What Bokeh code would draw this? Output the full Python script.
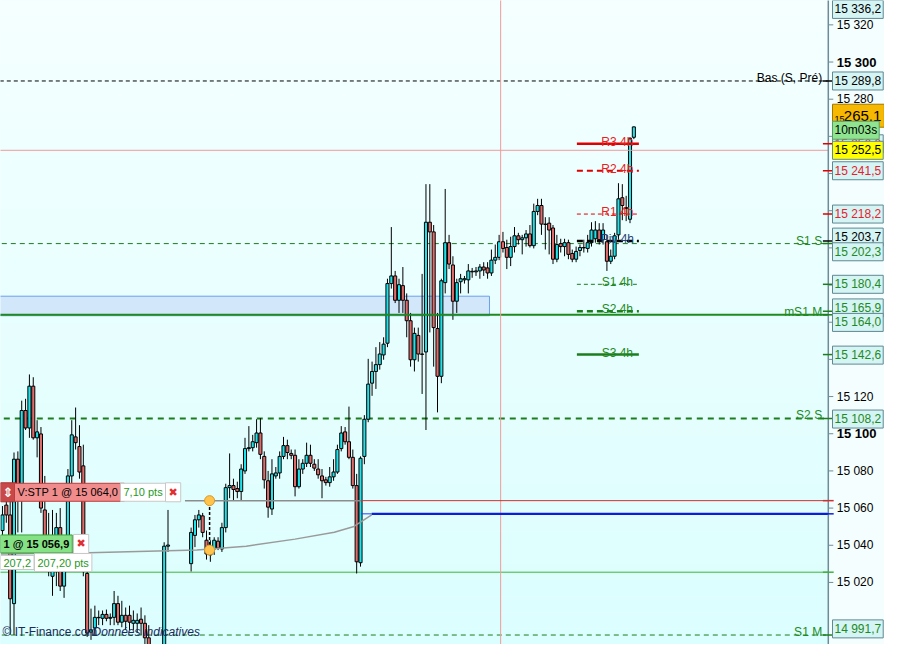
from bokeh.plotting import figure
from bokeh.models import Range1d, Label
from bokeh.embed import file_html
from bokeh.resources import INLINE
from bokeh.core.properties import value

FONT = "Liberation Sans"

# ---------------- data ----------------
opens = [15047.9, 15061.6, 15056.3, 15008.6, 15086.3, 15070.5, 15112.5, 15103.1, 15125.6, 15097.8, 15099.9, 15059.0,
         15040.6, 15023.3, 15039.0, 15049.5, 15018.0, 15039.0, 15077.3, 15098.3, 15093.1, 15082.7, 15024.8,
         14993.3, 14995.4, 15001.2, 15000.7, 15002.8, 15000.7, 15001.2, 15008.6, 14998.6, 15002.3, 15002.3, 14998.0,
         14998.0, 15000.2, 14998.0, 14990.2, 14981.3, 14976.0, 14978.6, 14980.2, 15039.5,
         15030.1, 15045.3, 15053.7, 15055.8, 15042.7, 15034.8, 15038.0, 15042.2, 15038.0, 15049.5, 15071.0, 15072.1,
         15070.5, 15068.9, 15080.0, 15092.0, 15092.5, 15095.2, 15100.4, 15087.8, 15074.7, 15059.5, 15077.3, 15078.9,
         15087.8, 15093.6, 15089.4, 15088.4, 15071.5, 15081.0, 15084.1, 15088.4, 15083.6, 15081.0, 15077.3, 15075.2,
         15073.7, 15076.8, 15079.4, 15092.0, 15101.0, 15095.7, 15087.3, 15072.1, 15030.6, 15087.8, 15107.8, 15127.2,
         15133.5, 15137.2, 15142.4, 15148.7, 15180.8, 15184.9, 15171.8, 15179.7, 15171.8, 15160.8, 15139.8, 15152.9,
         15142.9, 15144.0, 15213.8, 15208.6, 15156.6, 15130.9, 15181.3, 15202.8, 15190.8, 15171.3, 15181.8, 15182.8,
         15182.8, 15187.1, 15187.1, 15187.6, 15189.7, 15189.2, 15186.5, 15193.4, 15194.9, 15203.3, 15200.2, 15194.9,
         15200.7, 15206.5, 15204.4, 15205.4, 15207.5, 15201.2, 15219.6, 15222.8, 15212.8, 15213.3, 15210.7, 15193.9,
         15202.3, 15200.7, 15202.8, 15197.0, 15193.9, 15198.6, 15200.2, 15199.7, 15202.8, 15204.9, 15209.6, 15204.4,
         15203.3, 15192.8, 15195.5, 15207.0, 15227.0, 15221.7, 15215.4, 15259.5]
highs = [15061.1, 15067.9, 15067.9, 15089.9, 15090.5, 15117.8, 15118.8, 15131.9, 15130.4, 15107.3, 15103.6, 15077.3,
         15057.4, 15059.0, 15057.4, 15060.0, 15041.6, 15081.0, 15107.3, 15114.1, 15104.6, 15094.1, 15028.5,
         15005.9, 15007.5, 15004.9, 15004.9, 15005.4, 15003.3, 15015.4, 15012.8, 15010.1, 15006.5, 15007.5, 15004.9,
         15003.3, 15006.5, 15002.3, 14997.0, 14986.5, 14983.9, 14986.5, 15041.6, 15059.0,
         15049.5, 15056.3, 15059.0, 15057.4, 15047.9, 15042.7, 15044.3, 15044.3, 15052.1, 15073.1, 15089.4, 15075.8,
         15074.2, 15083.6, 15097.8, 15104.1, 15099.4, 15107.8, 15108.4, 15090.5, 15080.0, 15086.3, 15082.1, 15090.5,
         15098.3, 15096.8, 15091.5, 15091.5, 15086.3, 15086.3, 15095.2, 15094.1, 15086.3, 15086.3, 15081.0, 15076.8,
         15082.1, 15086.3, 15094.1, 15104.1, 15103.6, 15114.6, 15091.5, 15078.4, 15087.8, 15110.0, 15140.3, 15138.8,
         15146.6, 15149.3, 15151.9, 15183.4, 15211.2, 15187.6, 15183.4, 15189.7, 15175.5, 15165.0, 15157.1, 15157.1,
         15186.0, 15234.3, 15234.3, 15212.3, 15165.0, 15183.4, 15231.7, 15207.0, 15195.5, 15183.4, 15186.0, 15184.9,
         15191.3, 15189.2, 15189.7, 15191.3, 15192.3, 15192.3, 15199.1, 15201.8, 15207.0, 15208.6, 15204.4, 15206.0,
         15211.2, 15208.1, 15207.0, 15209.6, 15212.3, 15223.8, 15226.4, 15226.4, 15216.5, 15216.5, 15212.3, 15207.0,
         15204.9, 15204.9, 15204.4, 15199.1, 15200.7, 15201.8, 15204.4, 15207.0, 15213.8, 15214.4, 15213.3, 15213.3,
         15207.0, 15199.1, 15208.1, 15234.8, 15234.3, 15228.0, 15259.5, 15265.3]
lows = [15039.0, 15052.1, 14991.8, 14991.8, 15046.9, 15046.9, 15102.0, 15097.8, 15096.8, 15087.3, 15057.4, 15039.0,
        15023.3, 15012.8, 15018.0, 15015.4, 15011.7, 15033.8, 15073.1, 15091.5, 15075.8, 15023.3, 14990.7,
        14989.1, 14991.8, 14997.0, 14997.0, 14999.1, 14997.0, 14997.0, 14997.0, 14995.9, 14994.4, 14994.4, 14994.4,
        14992.8, 14991.8, 14983.9, 14976.0, 14970.8, 14968.1, 14970.8, 14976.0, 15036.4,
        15025.9, 15039.0, 15049.5, 15044.3, 15032.3, 15031.1, 15034.8, 15037.4, 15036.4, 15046.9, 15065.3, 15064.2,
        15065.3, 15064.2, 15078.4, 15090.5, 15090.5, 15092.5, 15086.3, 15070.5, 15054.8, 15056.3, 15075.8, 15075.8,
        15086.3, 15086.3, 15086.3, 15066.3, 15070.5, 15078.4, 15082.1, 15082.1, 15080.0, 15075.8, 15065.3, 15072.1,
        15071.5, 15074.7, 15078.4, 15090.5, 15094.1, 15086.3, 15070.5, 15024.8, 15028.5, 15083.6, 15106.2, 15120.4,
        15124.1, 15134.5, 15139.8, 15146.6, 15178.1, 15170.3, 15165.0, 15165.0, 15151.9, 15136.1, 15133.5, 15138.8,
        15121.4, 15102.0, 15154.5, 15136.1, 15111.5, 15127.2, 15175.5, 15188.6, 15161.3, 15165.0, 15175.5, 15180.8,
        15175.5, 15183.9, 15184.9, 15183.4, 15184.9, 15183.4, 15184.9, 15191.3, 15193.4, 15197.5, 15188.6, 15190.2,
        15197.5, 15201.8, 15196.5, 15200.7, 15200.2, 15199.7, 15217.6, 15207.0, 15199.1, 15196.5, 15191.3, 15192.3,
        15197.5, 15195.5, 15193.9, 15192.3, 15192.3, 15195.5, 15197.5, 15197.5, 15200.7, 15202.8, 15201.8, 15201.8,
        15187.6, 15191.3, 15193.9, 15204.4, 15214.9, 15214.4, 15213.3, 15258.5]
closes = [15056.3, 15056.3, 15011.2, 15086.3, 15070.5, 15112.5, 15103.1, 15125.6, 15097.8, 15101.0, 15060.0, 15040.6,
          15031.1, 15039.0, 15049.5, 15018.0, 15037.4, 15077.3, 15099.4, 15095.2, 15079.4, 15025.9, 14992.8,
          14994.4, 15001.2, 15001.0, 15002.8, 15000.7, 15001.2, 15008.6, 14998.6, 15002.3, 14999.1, 14998.6, 14999.6,
          14999.6, 14998.0, 14990.2, 14981.3, 14976.0, 14978.6, 14980.2, 15039.5, 15040.1,
          15046.9, 15053.7, 15056.3, 15046.9, 15035.3, 15038.0, 15042.7, 15038.5, 15049.5, 15071.0, 15072.1, 15070.0,
          15068.9, 15081.0, 15092.0, 15092.5, 15095.7, 15100.4, 15088.9, 15075.2, 15060.5, 15078.4, 15078.9, 15087.8,
          15093.6, 15089.9, 15088.4, 15071.5, 15081.0, 15084.1, 15088.4, 15084.1, 15081.5, 15077.9, 15074.7, 15073.7,
          15076.8, 15079.4, 15091.5, 15100.4, 15095.7, 15087.3, 15072.1, 15031.1, 15086.8, 15107.8, 15126.7, 15133.5,
          15137.2, 15142.9, 15148.2, 15180.8, 15184.9, 15171.8, 15180.2, 15171.8, 15160.8, 15139.8, 15154.0, 15142.9,
          15142.7, 15213.8, 15208.6, 15157.1, 15130.9, 15182.3, 15202.8, 15191.3, 15171.3, 15181.3, 15183.4, 15183.4,
          15187.6, 15187.4, 15187.6, 15189.7, 15188.1, 15186.5, 15193.4, 15194.9, 15203.3, 15199.7, 15194.9, 15200.7,
          15206.5, 15204.4, 15205.4, 15207.5, 15201.2, 15219.6, 15222.8, 15212.8, 15212.6, 15209.6, 15193.9, 15201.8,
          15200.7, 15202.8, 15196.5, 15193.9, 15198.1, 15200.2, 15200.0, 15202.8, 15209.6, 15209.6, 15204.4, 15209.6,
          15192.8, 15195.5, 15206.5, 15226.4, 15222.8, 15221.2, 15259.0, 15265.1]
# bar numbers (session break between bar 43 and bar 49)
bar_index = list(range(0, 44)) + list(range(49, 165))

price_ticks = [15020, 15040, 15060, 15080, 15120, 15280, 15320]
tick_labels = ["15 020", "15 040", "15 060", "15 080", "15 120", "15 280", "15 320"]
bold_ticks = [15100, 15300]
bold_tick_labels = ["15 100", "15 300"]
hidden_ticks = [15140, 15160, 15180, 15200, 15220, 15240, 15260]

pivot4h_names = ["R3 4h", "R2 4h", "R1 4h", "Piv 4h", "S1 4h", "S2 4h", "S3 4h"]
pivot4h_values = [15256.0, 15241.5, 15218.2, 15203.7, 15180.4, 15165.9, 15142.6]
pivot4h_start, pivot4h_end = 149.2, 165.3

level_names = ["Bas (S, Pré)", "S1 S", "mS1 M", "S2 S", "S1 M"]
level_values = [15289.8, 15202.3, 15164.0, 15108.2, 14991.7]

last_price = 15265.1
alert_price = 15252.5
stop_price = 15064.0
position_price = 15056.9
support_price = 15025.5
marker_bar = 53.8
marker_low = 15037.4
now_bar = 129.4
zone_low, zone_high, zone_end = 15163.5, 15174.0, 126.5

curve_bars = [-0.5, 22.4, 50.5, 63.3, 76.0, 86.2, 91.3, 95.9]
curve_prices = [15035.3, 15035.9, 15037.4, 15039.5, 15043.3, 15047.0, 15050.1, 15056.4]

axis_box_texts = ["15 336,2", "15 289,8", "15 256,0", "15 241,5", "15 218,2", "15 203,7", "15 202,3",
                  "15 180,4", "15 165,9", "15 164,0", "15 142,6", "15 108,2", "14 991,7"]
axis_box_values = [15336.2, 15289.8, 15256.0, 15241.5, 15218.2, 15203.7, 15202.3, 15180.4, 15165.9, 15164.0,
                   15142.6, 15108.2, 14991.7]

# ---------------- figure ----------------
AXIS_BAR = 214.5          # bar position of the price axis line
LABEL_BAR = 216.7         # bar position of the tick labels
X0, X1 = -0.51, 229.1
p = figure(width=884, height=644, output_backend="svg", toolbar_location=None,
           x_range=Range1d(X0, X1), y_range=Range1d(14986.6, 15333.1),
           x_axis_location=None, y_axis_location=None, min_border=0)
p.grid.visible = False
p.outline_line_color = None
p.background_fill_color = "#eafefe"
p.border_fill_color = "#f3ffff"

# background gradient
n = 40
y0, y1 = p.y_range.start, p.y_range.end
edges = [y0 + (y1 - y0) * k / n for k in range(n + 1)]
top_rgb, bot_rgb = (0xf5, 0xff, 0xff), (0xdb, 0xfe, 0xfe)
grad = []
for k in range(n):
    t = (k + 0.5) / n
    grad.append("#%02x%02x%02x" % tuple(round(b + (a - b) * t) for a, b in zip(top_rgb, bot_rgb)))
p.quad(left=X0 - 5, right=AXIS_BAR, bottom=edges[:-1], top=edges[1:], fill_color=grad, line_color=None)
p.quad(left=[AXIS_BAR], right=[X1 + 5], bottom=[y0 - 10], top=[y1 + 10], fill_color="#f4fefe", line_color=None)

# zone rectangle
p.quad(left=[-2], right=[zone_end], bottom=[zone_low], top=[zone_high],
       fill_color="#d3e7fb", line_color="#6b9ff0", line_width=1)


def hline(v, color, width=1, dash="solid", start=X0 - 2, end=AXIS_BAR):
    p.segment(x0=[start], y0=[v], x1=[end], y1=[v], line_color=color, line_width=width, line_dash=dash)


# full width lines (below candles)
hline(level_values[0], "black", 1, "4 3")
hline(level_values[1], "#1b7d1b", 1, "5 4")
hline(level_values[3], "#1b7d1b", 2.2, "6 5")
hline(level_values[4], "#1b7d1b", 1, "5 4")
hline(support_price, "#3cb43c", 1)

# candles
bull = "#1fe3ea"
bear = "#e06b6b"
colors = [bull if c >= o else bear for o, c in zip(opens, closes)]
p.segment(x0=bar_index, y0=lows, x1=bar_index, y1=highs, line_color="black", line_width=1)
p.vbar(x=bar_index, width=0.8, bottom=[min(o, c) for o, c in zip(opens, closes)],
       top=[max(o, c) for o, c in zip(opens, closes)], fill_color=colors, line_color="black", line_width=1)

# lines drawn above candles
hline(level_values[2], "#1f8a1f", 2)
hline(alert_price, "#f29a9a", 1)
p.segment(x0=[now_bar], y0=[y0 - 10], x1=[now_bar], y1=[y1 + 10], line_color="#f29a9a", line_width=1)

# pivot 4h segments
piv_colors = ["#e00000", "#e00000", "#e00000", "black", "#1b7d1b", "#1b7d1b", "#1b7d1b"]
piv_dash = ["solid", "6 4", "4 3", "6 4", "4 3", "6 4", "solid"]
piv_width = [2.5, 2.2, 1, 2.5, 1, 2.5, 2.5]
for v, c, d, w in zip(pivot4h_values, piv_colors, piv_dash, piv_width):
    hline(v, c, w, d, pivot4h_start, pivot4h_end)
piv_text_colors = ["#e82020", "#e82020", "#e82020", "#2a3f78", "#1f8a1f", "#1f8a1f", "#1f8a1f"]
p.text(x=[159.7] * len(pivot4h_names), y=pivot4h_values, text=pivot4h_names, text_align="center",
       text_baseline="alphabetic", y_offset=-2, text_font=value(FONT), text_font_size="12px",
       text_color=piv_text_colors)

# order / position lines
p.line(x=curve_bars, y=curve_prices, line_color="#9a9a9a", line_width=1.5)
hline(stop_price, "#8c8c8c", 1.5, "solid", 47.4, 93.1)
hline(stop_price, "#d03030", 1, "solid", 93.1, AXIS_BAR)
hline(position_price, "#2040ff", 1, "solid", 93.1, 95.9)
hline(position_price, "#0a1ee0", 2.2, "solid", 95.9, AXIS_BAR)
p.segment(x0=[marker_bar], y0=[marker_low], x1=[marker_bar], y1=[stop_price], line_color="black",
          line_dash="3 2", line_width=1.5)
p.scatter(x=[marker_bar, marker_bar], y=[stop_price, marker_low], size=10, fill_color="#ffc24a",
          line_color="#d8992a")

# level labels (right side of the chart)
lvl_colors = ["black", "#1f8a1f", "#1f8a1f", "#1f8a1f", "#1f8a1f"]
p.text(x=[AXIS_BAR - 1.6] * len(level_names), y=level_values, text=level_names, text_align="right",
       text_baseline="alphabetic", y_offset=-3, text_font=value(FONT), text_font_size="12px",
       text_color=lvl_colors)

# ---------------- price axis ----------------
axis_col = "#6d8c99"
p.segment(x0=[AXIS_BAR], y0=[y0 - 10], x1=[AXIS_BAR], y1=[y1 + 10], line_color=axis_col, line_width=1.5)
all_ticks = price_ticks + bold_ticks + hidden_ticks
p.segment(x0=[AXIS_BAR] * len(all_ticks), y0=all_ticks, x1=[AXIS_BAR + 1.3] * len(all_ticks), y1=all_ticks,
          line_color=axis_col, line_width=1)
p.text(x=[LABEL_BAR] * len(price_ticks), y=price_ticks, text=tick_labels, text_baseline="middle",
       text_font=value(FONT), text_font_size="12px", text_color="black")
p.text(x=[LABEL_BAR] * len(bold_ticks), y=bold_ticks, text=bold_tick_labels, text_baseline="middle",
       text_font=value(FONT), text_font_size="13px", text_font_style="bold", text_color="black")

# coloured level marks on the axis
mark_vals = [15289.8, 15256.0, 15241.5, 15218.2, 15203.7, 15202.3, 15180.4, 15165.9, 15164.0, 15142.6, 15108.2,
             14991.7, 15064.0, 15056.9, 15025.5]
mark_cols = ["black", "#e00000", "#e00000", "#e00000", "black", "#1b7d1b", "#1b7d1b", "#1b7d1b", "#1b7d1b",
             "#1b7d1b", "#1b7d1b", "#1b7d1b", "#d03030", "#0a1ee0", "#3cb43c"]
p.segment(x0=[AXIS_BAR - 1.4] * len(mark_vals), y0=mark_vals, x1=[AXIS_BAR + 1.4] * len(mark_vals), y1=mark_vals,
          line_color=mark_cols, line_width=1.5)

# axis value boxes
BOX_X = 832
display_shift = {15336.2: -7.9, 15203.7: 2.1, 15202.3: -4.4, 15165.9: 1.8, 15164.0: -4.1, 15142.6: -0.3,
                 15108.2: -0.3, 14991.7: 3.3}
red_vals = {15256.0, 15241.5, 15218.2}
black_vals = {15336.2, 15289.8, 15203.7}
for s, v in zip(axis_box_texts, axis_box_values):
    col = "#e8202a" if v in red_vals else ("black" if v in black_vals else "#1f8a1f")
    p.add_layout(Label(x=BOX_X, x_units="screen", y=v + display_shift.get(v, 0.0), text=s, text_baseline="middle",
                       text_font=FONT, text_font_size="12px", text_color=col,
                       background_fill_color="#d5f4f4", border_line_color="#5f8893", padding=2))
# last price (orange), timer (green), alert (yellow)
p.add_layout(Label(x=BOX_X, x_units="screen", y=15271.1, text="\u00a0\u00a0265,1", text_baseline="middle",
                   text_font=FONT, text_font_size="15px", text_color="black",
                   background_fill_color="#f6b800", border_line_color="#a07800", padding=3))
p.add_layout(Label(x=BOX_X + 2, x_units="screen", y=15269.3, text="15", text_baseline="alphabetic",
                   text_font=FONT, text_font_size="9px", text_color="black"))
p.add_layout(Label(x=BOX_X, x_units="screen", y=15263.3, text="10m03s", text_baseline="middle",
                   text_font=FONT, text_font_size="12px", text_color="black",
                   background_fill_color="#8fe58f", border_line_color="#5a9a6a", padding=2))
p.add_layout(Label(x=BOX_X, x_units="screen", y=alert_price, text="15 252,5", text_baseline="middle",
                   text_font=FONT, text_font_size="12px", text_color="black",
                   background_fill_color="#ffff00", border_line_color="#5f8893", padding=2))


# ---------------- order widgets (left) ----------------
def box(x, y, text, fill, border, color="black", size="12px", style="normal", font=FONT, pad=3):
    p.add_layout(Label(x=x, x_units="screen", y=y, text=text, text_baseline="middle", text_font=font,
                       text_font_size=size, text_font_style=style, text_color=color,
                       background_fill_color=fill, border_line_color=border, padding=pad))


box(0, 15068.5, "⇕", "#c94848", "#b03030", color="white", size="13px", style="bold", font="DejaVu Sans", pad=2)
box(14, 15068.5, "V:STP  1 @ 15 064,0", "#f08c8c", "#c03c3c", size="11px")
box(120, 15068.5, "7,10 pts", "white", "#c8c8c8", color="#1f9a1f", size="11px")
box(165, 15068.5, "✖", "white", "#c8c8c8", color="#e03030", size="11px", font="DejaVu Sans")
box(0, 15040.7, "1 @ 15 056,9", "#84e184", "#3ca03c", style="bold", size="11px")
box(73, 15040.7, "✖", "white", "#c8c8c8", color="#e03030", size="11px", font="DejaVu Sans")
box(0, 15030.7, "207,2", "white", "#c8c8c8", color="#1f9a1f", size="11px")
box(34, 15030.7, "207,20 pts", "white", "#c8c8c8", color="#1f9a1f", size="11px")

# copyright
p.add_layout(Label(x=2, x_units="screen", y=13, y_units="screen", text="© IT-Finance.com", text_baseline="middle",
                   text_font=FONT, text_font_size="12px", text_color="#1c2b5c"))
p.add_layout(Label(x=92, x_units="screen", y=13, y_units="screen", text="Données indicatives",
                   text_baseline="middle", text_font=FONT, text_font_size="12px", text_font_style="italic",
                   text_color="#1c2b5c"))

open("out.html", "w").write(file_html(p, INLINE))
